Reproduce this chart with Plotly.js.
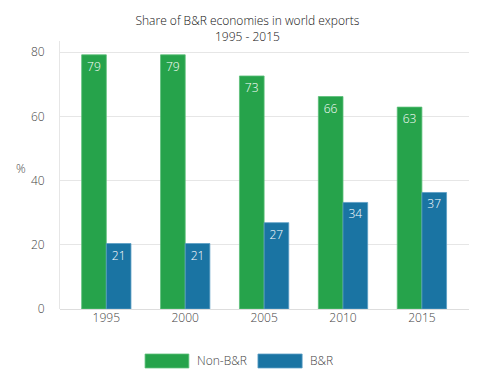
<!DOCTYPE html>
<html>
<head>
<meta charset="utf-8">
<script src="https://cdn.plot.ly/plotly-3.0.1.min.js"></script>
<style>html,body{margin:0;padding:0;background:#fff;}#chart{width:487px;height:376px;}</style>
</head>
<body>
<div id="chart"></div>
<script>
var years = ["1995", "2000", "2005", "2010", "2015"];
var nonBR = [79.2, 79.2, 72.6, 66.2, 62.9];
var nonBRLabels = ["79", "79", "73", "66", "63"];
var br = [20.4, 20.4, 26.9, 33.2, 36.3];
var brLabels = ["21", "21", "27", "34", "37"];
var seriesNames = ["Non-B&R", "B&R"];
var colors = ["#26a34b", "#1a74a3"];

var FONT = "'Open Sans', Lato, sans-serif";
var W = 300;

var traces = [
  {
    type: "bar", name: seriesNames[0], x: years, y: nonBR,
    text: nonBRLabels, textposition: "inside", insidetextanchor: "end",
    textfont: {color: "#ffffff", size: 12, family: FONT, weight: W},
    marker: {color: colors[0], line: {color: "#5cbf78", width: 0.8}},
    hoverinfo: "none"
  },
  {
    type: "bar", name: seriesNames[1], x: years, y: br,
    text: brLabels, textposition: "inside", insidetextanchor: "end",
    textfont: {color: "#ffffff", size: 12, family: FONT, weight: W},
    marker: {color: colors[1], line: {color: "#5a9dc4", width: 0.8}},
    hoverinfo: "none"
  }
];

var layout = {
  width: 487, height: 376,
  margin: {l: 60, r: 18, t: 41, b: 67},
  paper_bgcolor: "#ffffff", plot_bgcolor: "#ffffff",
  font: {family: FONT, color: "#444444", size: 12, weight: W},
  showlegend: false,
  barmode: "group",
  bargap: 0.375, bargroupgap: 0,
  title: {
    text: "Share of B&R economies in world exports<br>1995 - 2015",
    font: {family: FONT, size: 12, color: "#111111", weight: W},
    x: 0.508, xanchor: "center", xref: "container",
    y: 0.933, yanchor: "middle", yref: "container"
  },
  xaxis: {
    type: "category",
    range: [-0.587, 4.597],
    showgrid: false, zeroline: false,
    showline: false,
    ticks: "", tickfont: {size: 12, color: "#444444", weight: W},
    ticklen: 0
  },
  yaxis: {
    range: [0, 83.5],
    tickvals: [0, 20, 40, 60, 80],
    showgrid: true, gridcolor: "#e6e6e6", gridwidth: 1,
    zeroline: true, zerolinecolor: "#dddddd", zerolinewidth: 1,
    showline: true, linecolor: "#e6e6e6", linewidth: 1,
    ticks: "", ticklabelstandoff: 12,
    tickfont: {size: 12, color: "#444444", weight: W}
  },
  shapes: [
    {type: "rect", xref: "paper", yref: "paper", x0: 0.208, x1: 0.315, y0: -0.220, y1: -0.168,
     fillcolor: colors[0], line: {color: "#5cbf78", width: 0.8}},
    {type: "rect", xref: "paper", yref: "paper", x0: 0.484, x1: 0.592, y0: -0.220, y1: -0.168,
     fillcolor: colors[1], line: {color: "#5a9dc4", width: 0.8}}
  ],
  annotations: [
    {text: "%", xref: "paper", yref: "paper", x: -0.095, y: 0.525, xanchor: "center", yanchor: "middle",
     showarrow: false, font: {size: 12, color: "#444444", family: FONT, weight: W}},
    {text: seriesNames[0], xref: "paper", yref: "paper", x: 0.330, y: -0.194, xanchor: "left", yanchor: "middle",
     showarrow: false, font: {size: 12, color: "#444444", family: FONT, weight: W}},
    {text: seriesNames[1], xref: "paper", yref: "paper", x: 0.606, y: -0.194, xanchor: "left", yanchor: "middle",
     showarrow: false, font: {size: 12, color: "#444444", family: FONT, weight: W}}
  ]
};

Plotly.newPlot("chart", traces, layout, {displayModeBar: false, staticPlot: true});
</script>
</body>
</html>
